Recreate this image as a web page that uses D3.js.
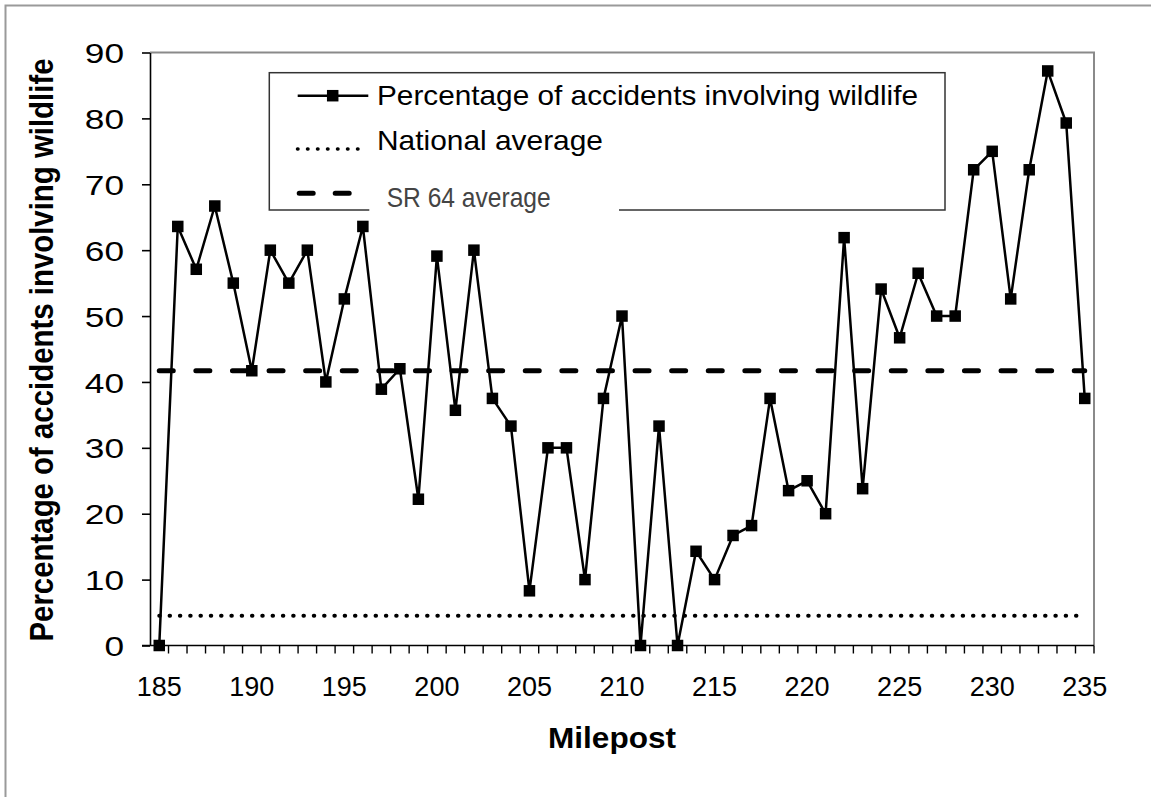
<!DOCTYPE html>
<html>
<head>
<meta charset="utf-8">
<script src="https://cdn.jsdelivr.net/npm/d3@7"></script>
<style>
  body { margin: 0; background: #fff; }
  svg { display: block; font-family: "Liberation Sans", Arial, sans-serif; }
</style>
</head>
<body>
<div id="chart"></div>
<script>
// Mileposts (categories)
const mileposts = [185, 186, 187, 188, 189, 190, 191, 192, 193, 194,
  195, 196, 197, 198, 199, 200, 201, 202, 203, 204,
  205, 206, 207, 208, 209, 210, 211, 212, 213, 214,
  215, 216, 217, 218, 219, 220, 221, 222, 223, 224,
  225, 226, 227, 228, 229, 230, 231, 232, 233, 234, 235];

// Percentage of accidents involving wildlife
const wildlifePct = [0, 63.6, 57.1, 66.7, 55.0, 41.7, 60.0, 55.0, 60.0, 40.0,
  52.6, 63.6, 38.9, 42.0, 22.2, 59.1, 35.7, 60.0, 37.5, 33.3,
  8.3, 30.0, 30.0, 10.0, 37.5, 50.0, 0, 33.3, 0, 14.3,
  10.0, 16.7, 18.2, 37.5, 23.5, 25.0, 20.0, 61.9, 23.8, 54.1,
  46.7, 56.5, 50.0, 50.0, 72.2, 75.0, 52.6, 72.2, 87.2, 79.3, 37.5];

const nationalAvg = 4.5;
const sr64Avg = 41.7;

const yTicks = [0, 10, 20, 30, 40, 50, 60, 70, 80, 90];
const xTickLabels = [185, 190, 195, 200, 205, 210, 215, 220, 225, 230, 235];

const legendLabels = ["Percentage of accidents involving wildlife", "National average", "SR 64 average"];

// Dimensions
const W = 1151, H = 797;
const plot = { left: 150, right: 1094, top: 52.5, bottom: 645.5 };

const svg = d3.select("#chart").append("svg")
  .attr("width", W).attr("height", H);

// cadre extérieur
svg.append("path")
  .attr("d", `M5.5,${H} V5.5 H${W}`)
  .attr("fill", "none").attr("stroke", "#9a9a9a").attr("stroke-width", 2);

// Scales
const x = d3.scaleBand().domain(mileposts).range([plot.left, plot.right]).padding(0);
const y = d3.scaleLinear().domain([0, 90]).range([plot.bottom, plot.top]);
const cx = m => x(m) + x.bandwidth() / 2;

// bordure haut / droite (grise)
svg.append("path")
  .attr("d", `M${plot.left},${plot.top} H${plot.right} V${plot.bottom}`)
  .attr("fill", "none").attr("stroke", "#8a8a8a").attr("stroke-width", 2);

// Axe Y
const gy = svg.append("g")
  .attr("transform", `translate(${plot.left},0)`)
  .call(d3.axisLeft(y).tickValues(yTicks).tickSize(8).tickSizeOuter(0).tickPadding(12.6));
gy.select(".domain").attr("stroke", "#000").attr("stroke-width", 1.6);
gy.selectAll(".tick line").attr("stroke", "#000").attr("stroke-width", 1.6);
gy.selectAll(".tick text")
  .attr("font-size", 28).attr("fill", "#000")
  .attr("font-family", "'Liberation Sans', Arial, sans-serif")
  .attr("dy", "0.36em")
  .attr("transform", "scale(1.26,1)");

// Axe X
svg.append("line")
  .attr("x1", plot.left - 8).attr("x2", plot.right)
  .attr("y1", plot.bottom).attr("y2", plot.bottom)
  .attr("stroke", "#000").attr("stroke-width", 1.6);

svg.append("g").selectAll("line")
  .data(mileposts.slice(1).concat(["end"]))
  .join("line")
  .attr("x1", d => d === "end" ? x(235) + x.bandwidth() : x(d))
  .attr("x2", d => d === "end" ? x(235) + x.bandwidth() : x(d))
  .attr("y1", plot.bottom).attr("y2", plot.bottom + 8)
  .attr("stroke", "#000").attr("stroke-width", 1.4);

const gx = svg.append("g")
  .attr("transform", `translate(0,${plot.bottom})`)
  .call(d3.axisBottom(x).tickValues(xTickLabels).tickSize(0).tickPadding(31));
gx.select(".domain").remove();
gx.selectAll(".tick text")
  .attr("font-size", 27).attr("fill", "#000")
  .attr("font-family", "'Liberation Sans', Arial, sans-serif");

// Titres des axes
svg.append("text")
  .attr("transform", `translate(53,350) rotate(-90) scale(1,1.16)`)
  .attr("text-anchor", "middle")
  .attr("font-size", 29.4).attr("font-weight", "bold")
  .text("Percentage of accidents involving wildlife");

svg.append("text")
  .attr("x", 612).attr("y", 748)
  .attr("text-anchor", "middle")
  .attr("font-size", 30).attr("font-weight", "bold")
  .attr("textLength", 128).attr("lengthAdjust", "spacingAndGlyphs")
  .text("Milepost");

// Lignes de moyenne
svg.append("line")
  .attr("x1", cx(185)).attr("x2", cx(235))
  .attr("y1", y(nationalAvg)).attr("y2", y(nationalAvg))
  .attr("stroke", "#000").attr("stroke-width", 4)
  .attr("stroke-linecap", "round").attr("stroke-dasharray", "0.5,9.8");

svg.append("line")
  .attr("x1", cx(185)).attr("x2", cx(235))
  .attr("y1", y(sr64Avg)).attr("y2", y(sr64Avg))
  .attr("stroke", "#000").attr("stroke-width", 5)
  .attr("stroke-linecap", "round").attr("stroke-dasharray", "14,22.6");

// Série principale
const series = mileposts.map((m, i) => ({ m, v: wildlifePct[i] }));
const line = d3.line().x(d => cx(d.m)).y(d => y(d.v));

svg.append("path")
  .datum(series)
  .attr("d", line)
  .attr("fill", "none").attr("stroke", "#000").attr("stroke-width", 2.5)
  .attr("stroke-linejoin", "round");

const mk = 11.5;
svg.append("g").selectAll("rect")
  .data(series)
  .join("rect")
  .attr("x", d => cx(d.m) - mk / 2)
  .attr("y", d => y(d.v) - mk / 2)
  .attr("width", mk).attr("height", mk)
  .attr("fill", "#000");

// --- Légende ---
const lg = svg.append("g");
lg.append("rect")
  .attr("x", 269.3).attr("y", 72.7).attr("width", 945 - 269.3).attr("height", 210 - 72.7)
  .attr("fill", "#fff").attr("stroke", "#333").attr("stroke-width", 1.5);

// ligne 1
lg.append("line").attr("x1", 297.7).attr("x2", 368.3).attr("y1", 95.7).attr("y2", 95.7)
  .attr("stroke", "#000").attr("stroke-width", 2.5);
lg.append("rect").attr("x", 332.7 - mk / 2).attr("y", 95.7 - mk / 2)
  .attr("width", mk).attr("height", mk).attr("fill", "#000");
lg.append("text").attr("x", 377).attr("y", 105)
  .attr("font-size", 28).attr("textLength", 541).attr("lengthAdjust", "spacingAndGlyphs")
  .text(legendLabels[0]);

// ligne 2
lg.append("line").attr("x1", 297.5).attr("x2", 358).attr("y1", 149).attr("y2", 149)
  .attr("stroke", "#000").attr("stroke-width", 3.5)
  .attr("stroke-linecap", "round").attr("stroke-dasharray", "0.5,9.5");
lg.append("text").attr("x", 377).attr("y", 150)
  .attr("font-size", 28).attr("textLength", 226).attr("lengthAdjust", "spacingAndGlyphs")
  .text(legendLabels[1]);

// ligne 3 (zone de texte blanche par-dessus le cadre)
lg.append("line").attr("x1", 299.2).attr("x2", 350.2).attr("y1", 193.3).attr("y2", 193.3)
  .attr("stroke", "#000").attr("stroke-width", 5)
  .attr("stroke-linecap", "round").attr("stroke-dasharray", "14,22");
lg.append("rect").attr("x", 369.3).attr("y", 170).attr("width", 619 - 369.3).attr("height", 45)
  .attr("fill", "#fff");
lg.append("text").attr("x", 386.7).attr("y", 206.7)
  .attr("font-size", 28).attr("fill", "#444")
  .attr("font-family", "'Liberation Sans Narrow', 'Liberation Sans', Arial, sans-serif")
  .attr("textLength", 164).attr("lengthAdjust", "spacingAndGlyphs")
  .text(legendLabels[2]);
</script>
</body>
</html>
